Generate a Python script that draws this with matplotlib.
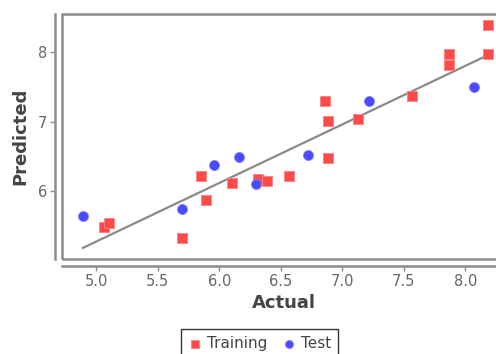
import numpy as np
import matplotlib
matplotlib.use("Agg")
import matplotlib.pyplot as plt
from matplotlib.patches import Rectangle

# Data
train_actual = [5.06, 5.10, 5.695, 5.85, 5.89, 6.10, 6.31, 6.39, 6.565, 6.86, 6.88, 6.88,
                7.125, 7.565, 7.87, 7.87, 8.18, 8.18]
train_pred = [5.48, 5.54, 5.32, 6.22, 5.87, 6.115, 6.17, 6.14, 6.22, 7.29, 7.01, 6.47,
              7.04, 7.37, 7.97, 7.81, 8.39, 7.97]
test_actual = [4.89, 5.695, 5.955, 6.16, 6.30, 6.72, 7.215, 8.07]
test_pred = [5.64, 5.74, 6.37, 6.49, 6.10, 6.52, 7.29, 7.50]
fit_actual = [4.89, 8.15]
fit_pred = [5.18, 7.93]
x_ticks = [5.0, 5.5, 6.0, 6.5, 7.0, 7.5, 8.0]
y_ticks = [6, 7, 8]

W, H = 496, 354
fig = plt.figure(figsize=(W / 100, H / 100), dpi=100)
ax = fig.add_axes([62 / W, (H - 259) / H, (506 - 62) / W, (259 - 14) / H])

ax.plot(fit_actual, fit_pred, color="#8a8a8a", lw=1.6, zorder=2)
ax.scatter(train_actual, train_pred, marker="s", s=50, color="#ff4a4a",
           edgecolors="#ff8080", linewidths=0.6, zorder=3, label="Training")
ax.scatter(test_actual, test_pred, marker="o", s=52, color="#4a4aff",
           edgecolors="#8080ff", linewidths=0.6, zorder=3, label="Test")

ax.set_xlim(4.72, 8.33)
ax.set_ylim(5.02, 8.55)
ax.set_xticks(x_ticks)
ax.set_xticklabels([f"{v:.1f}" for v in x_ticks])
ax.set_yticks(y_ticks)
ax.set_yticklabels([str(v) for v in y_ticks])

for s in ["top", "right"]:
    ax.spines[s].set_visible(False)
for s in ["left", "bottom"]:
    ax.spines[s].set_position(("outward", 5))
    ax.spines[s].set_color("#8c8c8c")
    ax.spines[s].set_linewidth(1.8)
ax.add_patch(Rectangle((0, 0), 1, 1, transform=ax.transAxes, fill=False,
                       edgecolor="#8c8c8c", lw=1.8, clip_on=False, zorder=1))

ax.tick_params(axis="both", colors="#8c8c8c", labelcolor="#666666",
               labelsize=10.5, length=3.5, width=1, pad=2)

ax.set_xlabel("Actual", fontsize=13, fontweight="bold", color="#444444", labelpad=4)
ax.set_ylabel("Predicted", fontsize=13, fontweight="bold", color="#444444", labelpad=6)

leg = fig.legend(loc="upper center", bbox_to_anchor=(259.5 / W, 1 - 329 / H),
                 ncol=2, frameon=True, fancybox=False, fontsize=11,
                 handletextpad=0.3, columnspacing=0.9, borderpad=0.45,
                 handlelength=1.0, borderaxespad=0, markerscale=0.8)
leg.get_frame().set_edgecolor("black")
leg.get_frame().set_linewidth(1.0)
for t in leg.get_texts():
    t.set_color("#444444")

fig.savefig("out.png", dpi=100)
